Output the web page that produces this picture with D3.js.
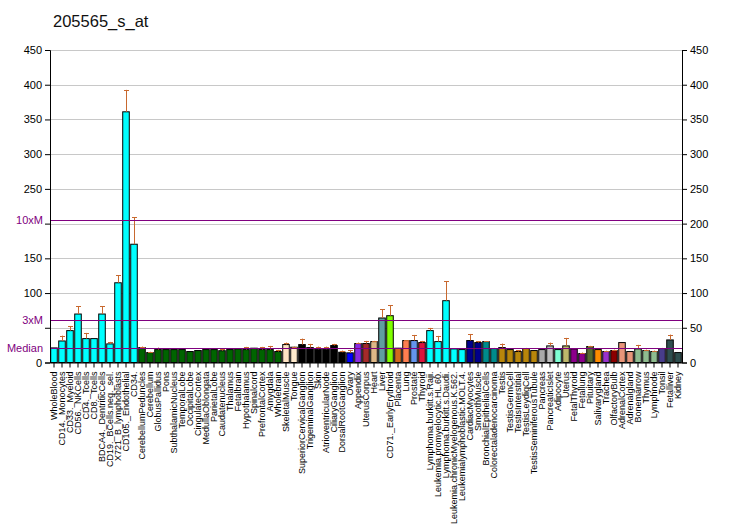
<!DOCTYPE html>
<html><head><meta charset="utf-8">
<script src="https://cdn.jsdelivr.net/npm/d3@7"></script>
<style>body{margin:0;background:#fff}svg text{font-family:Arial,"Liberation Sans",sans-serif}</style>
</head><body><svg id="c" width="732" height="530"></svg>
<script>
const title = "205565_s_at";
const categories = ["WholeBlood","CD14._Monocytes","CD33._Myeloid","CD56._NKCells","CD4._Tcells","CD8._Tcells","BDCA4._DentriticCells","CD19._BCells.neg._sel.","X721_B_lymphoblasts","CD105._Endothelial","CD34.","CerebellumPeduncles","Cerebellum","GlobusPallidus","Pons","SubthalamicNucleus","TemporalLobe","OccipitalLobe","CingulateCortex","MedullaOblongata","ParietalLobe","Caudatenucleus","Thalamus","Fetalbrain","Hypothalamus","Spinalcord","PrefrontalCortex","Amygdala","Wholebrain","SkeletalMuscle","Tongue","SuperiorCervicalGanglion","TrigeminalGanglion","Skin","AtrioventricularNode","CiliaryGanglion","DorsalRootGanglion","Ovary","Appendix","UterusCorpus","Heart","Liver","CD71._EarlyErythroid","Placenta","Lung","Prostate","Thyroid","Lymphoma.burkitt.s.Raji.","Leukemia.promyelocytic.HL.60.","Lymphoma.burkitt.s.Daudi.","Leukemia.chronicMyelogenous.K.562.","Leukemialymphoblastic.MOLT.4.","CardiacMyocytes","SmoothMuscle","BronchialEpithelialCells","Colorectaladenocarcinoma","Testis","TestisGermCell","TestisInterstitial","TestisLeydigCell","TestisSeminiferousTubule","Pancreas","PancreaticIslet","Adipocyte","Uterus","FetalThyroid","Fetallung","Pituitary","Salivarygland","Trachea","OlfactoryBulb","AdrenalCortex","Adrenalgland","Bonemarrow","Thymus","Lymphnode","Tonsil","Fetalliver","Kidney"];
const values = [21,31,45.9,69.8,34.4,34.4,69.8,26.8,114.8,361,170.3,21.5,14.3,18.6,18.6,18.6,18.6,15.8,17.2,18.6,18.6,17,18.6,19.6,18.6,20.6,18.6,18.6,15.8,25.8,22,25.8,21.5,19.1,19.1,24.4,14.8,13.9,27.3,27.3,30.1,64.1,67.4,20.6,31.6,31.6,28.7,45.9,30.1,89,19.6,18.6,31.6,28.7,30.1,20.1,21.5,18.6,15.8,20.1,17.2,18.6,23.9,18.6,23.9,19.6,12.9,23,18.6,15.8,17.2,28.7,15.8,19.6,17.2,15.8,20.1,32.5,14.3];
const errors = [0,7.7,6.7,11.5,8.2,0,11.5,2.9,11,31.6,39.2,1.5,1.2,2.9,0,0,0,0,0,0,0,2,0,0,3.9,0.4,3.9,5.3,2.4,2.9,0.9,8.6,5.3,3.8,3.8,2.4,2.4,4.3,1.4,3.8,1,12.9,15.4,0.4,0.4,8.1,2.4,3.9,8.2,28.2,0,0,9.5,1.9,0.9,0.9,5.8,0,1.8,0.9,0,0,4.8,0,11.5,0,1.4,1,0,1.2,1.4,0,0,5.8,1.4,1.4,0.9,7.7,0];
const colors = ["#00FFFF","#00FFFF","#00FFFF","#00FFFF","#00FFFF","#00FFFF","#00FFFF","#00FFFF","#00FFFF","#00FFFF","#00FFFF","#006400","#006400","#006400","#006400","#006400","#006400","#006400","#006400","#006400","#006400","#006400","#006400","#006400","#006400","#006400","#006400","#006400","#006400","#FFE4C4","#FFEBCD","#000000","#000000","#000000","#000000","#000000","#000000","#0000FF","#8A2BE2","#A52A2A","#DEB887","#5F9EA0","#7FFF00","#D2691E","#FF7F50","#6495ED","#DC143C","#00FFFF","#00FFFF","#00FFFF","#00FFFF","#00FFFF","#00008B","#00008B","#008B8B","#008B8B","#B8860B","#B8860B","#B8860B","#B8860B","#B8860B","#A9A9A9","#BEBEBE","#7FFFD4","#BDB76B","#8B008B","#8B008B","#556B2F","#FF8C00","#9932CC","#8B0000","#E9967A","#E9967A","#8FBC8F","#8FBC8F","#8FBC8F","#483D8B","#2F4F4F","#2F4F4F"];
const yTicks = [0,50,100,150,200,250,300,350,400,450];
const median = 20.5;
const refLines = [{label:"Median", v: median},{label:"3xM", v: median*3},{label:"10xM", v: median*10}];

const svg = d3.select("#c");
const L = 50, R = 682, T = 50, B = 362.5;
const x = d3.scaleBand().domain(categories).range([L, R]).paddingInner(0.18).paddingOuter(0.09);
const y = d3.scaleLinear().domain([0, 450]).range([B, T]);

svg.append("text").attr("x", 53).attr("y", 27).attr("font-size", 16.5).attr("fill", "#111").text(title);

// gridlines
svg.append("g").selectAll("line").data(yTicks.filter(d => d > 0)).join("line")
  .attr("x1", L).attr("x2", R).attr("y1", d => Math.round(y(d)) + 0.5).attr("y2", d => Math.round(y(d)) + 0.5)
  .attr("stroke", "#c8c8c8").attr("stroke-width", 1);

// bars
const data = categories.map((c, i) => ({c, v: values[i], e: errors[i], col: colors[i]}));
svg.append("g").selectAll("rect").data(data).join("rect")
  .attr("x", d => x(d.c)).attr("width", x.bandwidth())
  .attr("y", d => y(d.v)).attr("height", d => y(0) - y(d.v))
  .attr("fill", d => d.col).attr("stroke", "#000").attr("stroke-width", 1);

// error bars
const eg = svg.append("g").attr("stroke", "#C8692F").attr("stroke-width", 1);
data.filter(d => d.e > 0).forEach(d => {
  const cx = Math.round(x(d.c) + x.bandwidth() / 2) + 0.5;
  eg.append("line").attr("x1", cx).attr("x2", cx).attr("y1", y(d.v)).attr("y2", y(d.v + d.e));
  eg.append("line").attr("x1", cx - 2.5).attr("x2", cx + 2.5).attr("y1", Math.round(y(d.v + d.e)) + 0.5).attr("y2", Math.round(y(d.v + d.e)) + 0.5);
});

// reference lines
svg.append("g").selectAll("line").data(refLines).join("line")
  .attr("x1", L).attr("x2", R).attr("y1", d => Math.round(y(d.v)) + 0.5).attr("y2", d => Math.round(y(d.v)) + 0.5)
  .attr("stroke", "#800080").attr("stroke-width", 1.2);

// left axis
const hidden = [50, 200];
const la = svg.append("g").attr("transform", `translate(${L},0)`)
  .call(d3.axisLeft(y).tickValues(yTicks).tickSize(5).tickPadding(3).tickFormat(d => hidden.includes(d) ? "" : d));
la.selectAll("text").attr("font-size", 11).attr("fill", "#000");
la.select(".domain").attr("stroke", "#000");
svg.append("g").selectAll("text").data(refLines).join("text")
  .attr("x", L - 7).attr("y", d => y(d.v)).attr("dy", "0.35em").attr("text-anchor", "end")
  .attr("font-size", 11).attr("fill", "#800080").text(d => d.label);

// right axis
const ra = svg.append("g").attr("transform", `translate(${R},0)`)
  .call(d3.axisRight(y).tickValues(yTicks).tickSize(5).tickPadding(3));
ra.selectAll("text").attr("font-size", 11).attr("fill", "#000");

// bottom axis
const ba = svg.append("g").attr("transform", `translate(0,${B})`)
  .call(d3.axisBottom(x).tickSize(5).tickSizeOuter(0).tickPadding(3));
ba.select(".domain").attr("stroke", "#000");
ba.selectAll("text").attr("font-size", 9).attr("fill", "#000")
  .attr("text-anchor", "end").attr("dy", "0.35em").attr("transform", "rotate(-90)").attr("x", -9).attr("y", 0);
</script></body></html>
